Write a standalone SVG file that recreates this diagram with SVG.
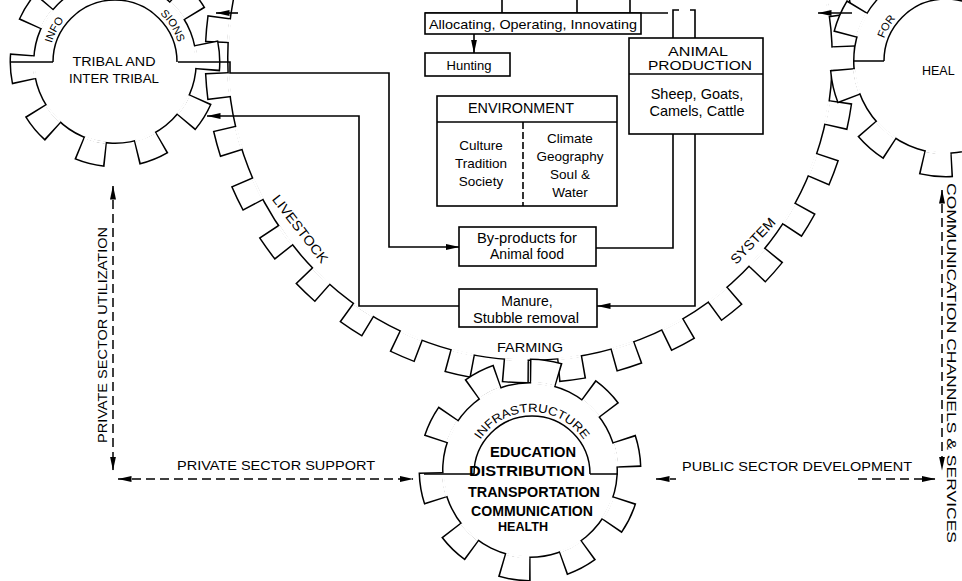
<svg xmlns="http://www.w3.org/2000/svg" width="962" height="581" viewBox="0 0 962 581">
<defs>
<style>
.ink{fill:none;stroke:#000;stroke-width:1.5}
.box{fill:#fff;stroke:#000;stroke-width:1.6}
.ln{fill:none;stroke:#000;stroke-width:1.6}
.dash{fill:none;stroke:#000;stroke-width:1.5;stroke-dasharray:9 5}
.t{font-family:"Liberation Sans",Arial,Helvetica,sans-serif;fill:#000}
.tb{font-family:"Liberation Sans",Arial,Helvetica,sans-serif;fill:#000;font-weight:bold}
.gk{fill:none;stroke:#000}
.gw{fill:none;stroke:#fff}
.body{fill:#fff;stroke:#000;stroke-width:1.5}
.m{text-anchor:middle}
</style>
<marker id="ah" viewBox="0 0 14 6" refX="13.5" refY="3" markerWidth="14" markerHeight="6" markerUnits="userSpaceOnUse" orient="auto"><path d="M0,0 L14,3 L0,6 z" fill="#000"/></marker>
<marker id="as" viewBox="0 0 14 6" refX="13.5" refY="3" markerWidth="14" markerHeight="6" markerUnits="userSpaceOnUse" orient="auto-start-reverse"><path d="M0,0 L14,3 L0,6 z" fill="#000"/></marker>
<path id="g1arc" d="M 49 62 A 66 66 0 0 1 181 62"/>
<path id="g2arc" d="M 880 61 A 66 66 0 0 1 1012 61"/>
<path id="g3arc" d="M 470 474 A 62 62 0 0 1 594 474"/>
</defs>

<!-- Big gear: livestock farming system -->
<g id="gear-farming-system">
 <g transform="rotate(90.2 530 58)">
  <circle cx="530" cy="58" r="313.5" class="gk" stroke-width="24" stroke-dasharray="26.264 30.015"/>
  <circle cx="530" cy="58" r="313.5" class="gw" stroke-width="21" stroke-dasharray="23.264 33.015" stroke-dashoffset="-1.5"/>
  <circle cx="530" cy="58" r="302.25" class="body"/>
  <circle cx="530" cy="58" r="302.25" class="gw" stroke-width="2.6" stroke-dasharray="22.429 31.831" stroke-dashoffset="-1.446"/>
 </g>
 <text class="t m" font-size="13.5" transform="translate(300 229) rotate(52.4)" y="4.5" textLength="82" lengthAdjust="spacingAndGlyphs">LIVESTOCK</text>
 <text class="t m" font-size="13" x="530" y="352" textLength="66" lengthAdjust="spacingAndGlyphs">FARMING</text>
 <text class="t m" font-size="13.5" transform="translate(753 241) rotate(-46.4)" y="4.5" textLength="58" lengthAdjust="spacingAndGlyphs">SYSTEM</text>
</g>

<!-- Top-left gear: tribal and inter tribal -->
<g id="gear-tribal">
 <g transform="rotate(23.5 115 62)">
  <circle cx="115" cy="62" r="93" class="gk" stroke-width="25" stroke-dasharray="27.594 30.840"/>
  <circle cx="115" cy="62" r="93" class="gw" stroke-width="22" stroke-dasharray="24.594 33.840" stroke-dashoffset="-1.5"/>
  <circle cx="115" cy="62" r="81.25" class="body"/>
  <circle cx="115" cy="62" r="81.25" class="gw" stroke-width="2.6" stroke-dasharray="21.487 29.564" stroke-dashoffset="-1.310"/>
 </g>
 <path class="ink" d="M 53 62 A 62 62 0 0 1 177 62 M 11 62 H 53"/>
 <text class="t" font-size="11"><textPath href="#g1arc" startOffset="19">INFO</textPath></text>
 <text class="t" font-size="11"><textPath href="#g1arc" startOffset="153">SIONS</textPath></text>
 <text class="t m" font-size="12.5" x="114" y="66" textLength="83" lengthAdjust="spacingAndGlyphs">TRIBAL AND</text>
 <text class="t m" font-size="12.5" x="114" y="83" textLength="90" lengthAdjust="spacingAndGlyphs">INTER TRIBAL</text>
</g>

<!-- Top-right gear -->
<g id="gear-health">
 <g transform="rotate(86.5 946 61)">
  <circle cx="946" cy="61" r="104" class="gk" stroke-width="25" stroke-dasharray="30.857 34.488"/>
  <circle cx="946" cy="61" r="104" class="gw" stroke-width="22" stroke-dasharray="27.857 37.488" stroke-dashoffset="-1.5"/>
  <circle cx="946" cy="61" r="92.25" class="body"/>
  <circle cx="946" cy="61" r="92.25" class="gw" stroke-width="2.6" stroke-dasharray="24.710 33.252" stroke-dashoffset="-1.331"/>
 </g>
 <path class="ink" d="M 884 61 A 62 62 0 0 1 1008 61 M 854 61 H 884"/>
 <text class="t" font-size="11"><textPath href="#g2arc" startOffset="23">FOR</textPath></text>
 <text class="t" font-size="12.5" x="922" y="75">HEAL</text>
</g>

<!-- Bottom gear: infrastructure -->
<g id="gear-infrastructure">
 <g transform="rotate(-18.5 530 470)">
  <circle cx="530" cy="470" r="99" class="gk" stroke-width="25" stroke-dasharray="29.374 32.830"/>
  <circle cx="530" cy="470" r="99" class="gw" stroke-width="22" stroke-dasharray="26.374 35.830" stroke-dashoffset="-1.5"/>
  <circle cx="530" cy="470" r="87.25" class="body"/>
  <circle cx="530" cy="470" r="87.25" class="gw" stroke-width="2.6" stroke-dasharray="23.244 31.577" stroke-dashoffset="-1.322"/>
 </g>
 <path class="ink" d="M 474 474 A 58 58 0 0 1 590 474 M 424 474 H 474 M 590 474 H 618"/>
 <text class="t m" font-size="12"><textPath href="#g3arc" startOffset="50%" textLength="122" lengthAdjust="spacingAndGlyphs">INFRASTRUCTURE</textPath></text>
 <text class="tb m" font-size="14" x="533" y="457" textLength="86" lengthAdjust="spacingAndGlyphs">EDUCATION</text>
 <text class="tb m" font-size="14" x="527" y="476" textLength="116" lengthAdjust="spacingAndGlyphs">DISTRIBUTION</text>
 <text class="tb m" font-size="14" x="534" y="497" textLength="132" lengthAdjust="spacingAndGlyphs">TRANSPORTATION</text>
 <text class="tb m" font-size="14" x="532" y="516" textLength="122" lengthAdjust="spacingAndGlyphs">COMMUNICATION</text>
 <text class="tb m" font-size="13" x="523" y="531" textLength="50" lengthAdjust="spacingAndGlyphs">HEALTH</text>
</g>

<!-- Boxes -->
<g id="box-allocating">
 <path class="ln" d="M 425 13 H 668 M 502 0 V 13 M 577 0 V 13 M 630 0 V 13"/>
 <rect class="box" x="425" y="13" width="216" height="21"/>
 <text class="t m" font-size="13" x="533" y="29" textLength="208" lengthAdjust="spacingAndGlyphs">Allocating, Operating, Innovating</text>
</g>
<g id="box-hunting">
 <rect class="box" x="425" y="53" width="85" height="23"/>
 <text class="t m" font-size="13" x="469" y="70">Hunting</text>
</g>
<g id="box-animal-production">
 <rect class="box" x="629" y="38" width="134" height="96"/>
 <path class="ln" d="M 629 74 H 763"/>
 <text class="t m" font-size="13.5" x="698" y="56" textLength="60" lengthAdjust="spacingAndGlyphs">ANIMAL</text>
 <text class="t m" font-size="13.5" x="700" y="70" textLength="104" lengthAdjust="spacingAndGlyphs">PRODUCTION</text>
 <text class="t m" font-size="14.5" x="697" y="99">Sheep, Goats,</text>
 <text class="t m" font-size="14.5" x="697" y="116">Camels, Cattle</text>
</g>
<g id="box-environment">
 <rect class="box" x="437" y="96" width="180" height="110"/>
 <path class="ln" d="M 437 122 H 617"/>
 <path class="ln" d="M 523 122 V 206" stroke-dasharray="7 3"/>
 <text class="t m" font-size="14" x="521" y="113" textLength="106" lengthAdjust="spacingAndGlyphs">ENVIRONMENT</text>
 <text class="t m" font-size="13.5" x="481" y="150">Culture</text>
 <text class="t m" font-size="13.5" x="481" y="168">Tradition</text>
 <text class="t m" font-size="13.5" x="481" y="186">Society</text>
 <text class="t m" font-size="13.5" x="570" y="143">Climate</text>
 <text class="t m" font-size="13.5" x="570" y="161">Geography</text>
 <text class="t m" font-size="13.5" x="570" y="179">Soul &amp;</text>
 <text class="t m" font-size="13.5" x="570" y="197">Water</text>
</g>
<g id="box-byproducts">
 <rect class="box" x="459" y="227" width="137" height="39"/>
 <text class="t m" font-size="14" x="527" y="243" textLength="100" lengthAdjust="spacingAndGlyphs">By-products for</text>
 <text class="t m" font-size="14" x="527" y="259">Animal food</text>
</g>
<g id="box-manure">
 <rect class="box" x="459" y="289" width="138" height="38"/>
 <text class="t m" font-size="14" x="527" y="306">Manure,</text>
 <text class="t m" font-size="14" x="526" y="323" textLength="106" lengthAdjust="spacingAndGlyphs">Stubble removal</text>
</g>

<!-- Connectors -->
<g id="connectors">
 <path class="ln" d="M 178 62 H 230 V 73 H 389 V 247 H 459" marker-end="url(#ah)"/>
 <path class="ln" d="M 459 306 H 359 V 116 H 207" marker-end="url(#ah)"/>
 <path class="ln" d="M 673 134 V 248 H 596"/>
 <path class="ln" d="M 695 134 V 306 H 597" marker-end="url(#ah)"/>
 <path class="ln" d="M 474 34 V 53" marker-end="url(#ah)"/>
 <path class="ln" d="M 673 38 V 10 H 679 M 695 38 V 10 H 690"/>
 <path class="ln" d="M 238 13 H 216" marker-end="url(#ah)"/>
 <path class="ln" d="M 852 13 H 818" marker-end="url(#ah)"/>
 <path class="dash" d="M 113 186 V 470" marker-start="url(#as)" marker-end="url(#ah)"/>
 <path class="dash" d="M 118 479 H 413" marker-start="url(#as)" marker-end="url(#ah)"/>
 <path class="dash" d="M 656 479 L 676 479 M 858 479 L 935 479" marker-start="url(#as)" marker-end="url(#ah)"/>
 <path class="dash" d="M 942 190 V 470" marker-start="url(#as)" marker-end="url(#ah)"/>
 <text class="t m" font-size="13" x="276" y="470" textLength="198" lengthAdjust="spacingAndGlyphs">PRIVATE SECTOR SUPPORT</text>
 <text class="t m" font-size="13" transform="rotate(-90 107 335)" x="107" y="335" textLength="216" lengthAdjust="spacingAndGlyphs">PRIVATE SECTOR UTILIZATION</text>
 <text class="t m" font-size="13" x="797" y="471" textLength="230" lengthAdjust="spacingAndGlyphs">PUBLIC SECTOR DEVELOPMENT</text>
 <text class="t" font-size="13" transform="rotate(90 947 183)" x="947" y="183" textLength="360" lengthAdjust="spacingAndGlyphs">COMMUNICATION CHANNELS &amp; SERVICES</text>
</g>
</svg>
